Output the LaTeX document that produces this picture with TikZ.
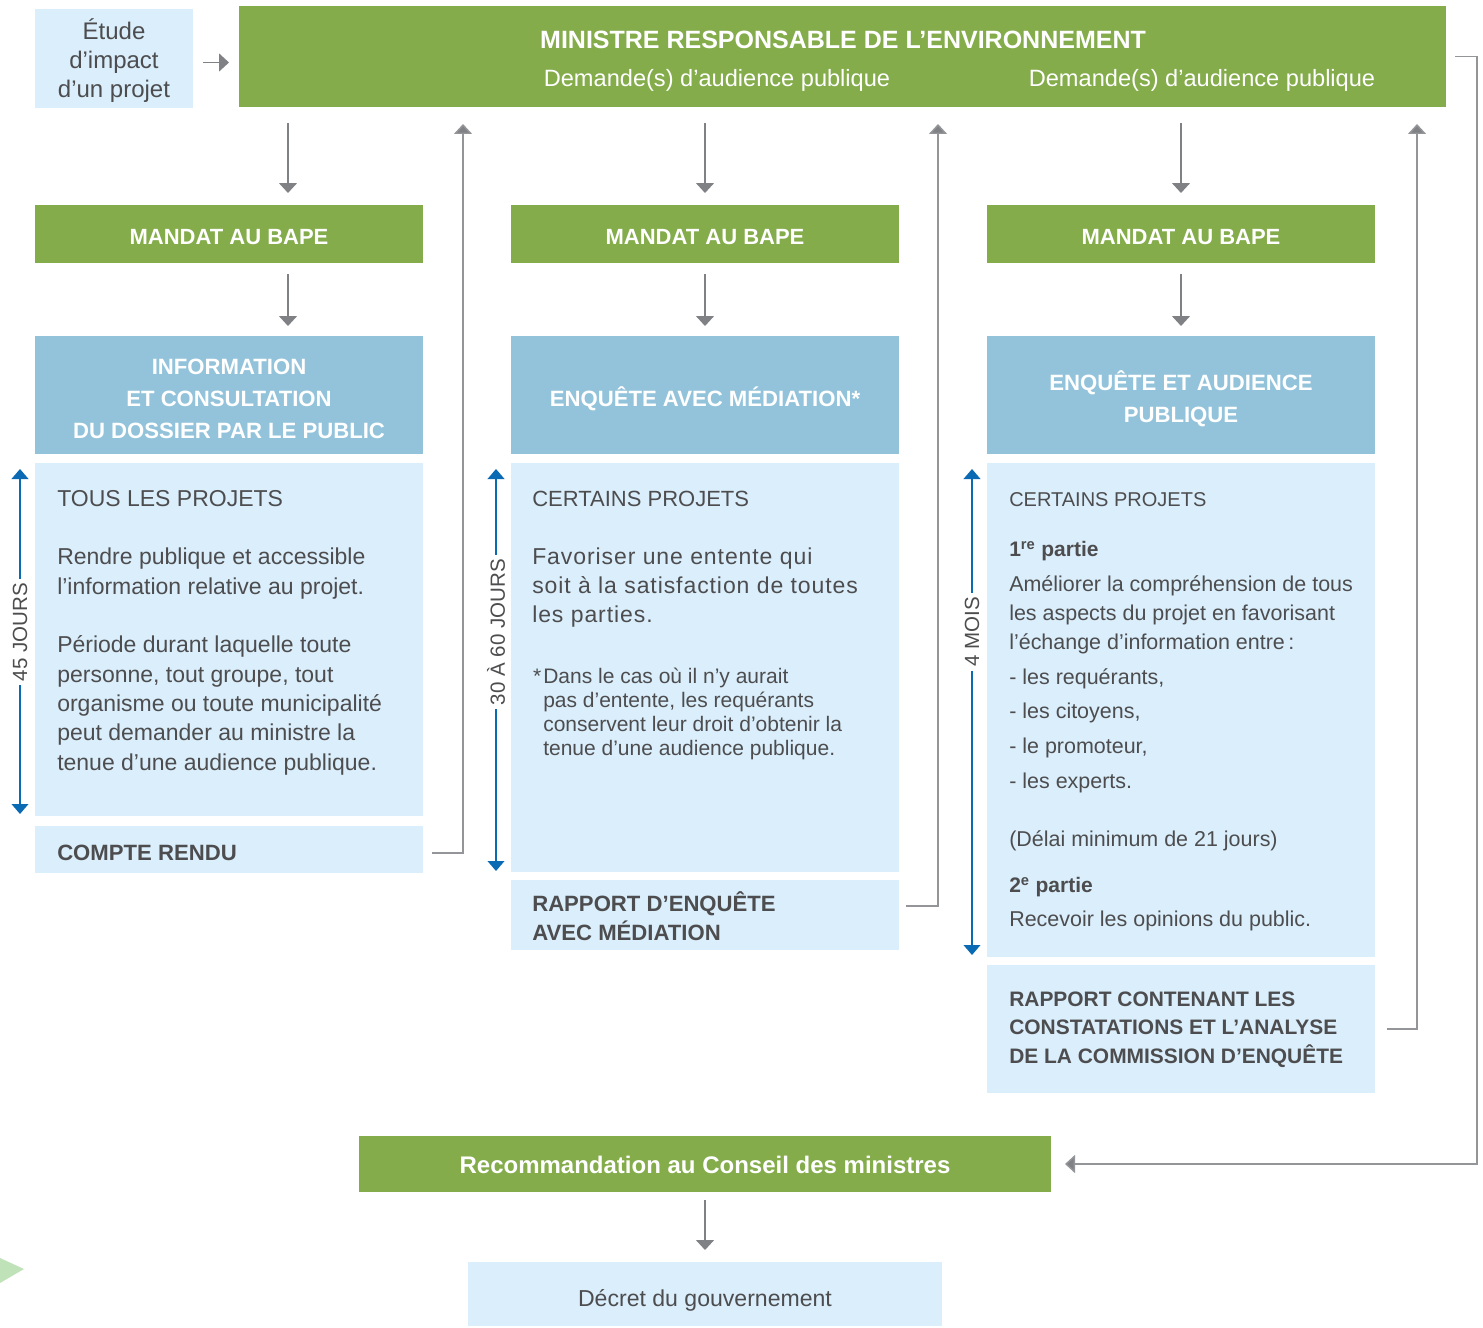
\documentclass[tikz,border=0pt]{standalone}
\usepackage{fontspec}
\setmainfont{Liberation Sans}
\newfontfamily\spaced{Liberation Sans}[LetterSpace=4]
\usetikzlibrary{arrows.meta,fit}
\definecolor{vert}{HTML}{84AC4B}
\definecolor{bleu}{HTML}{93C3DB}
\definecolor{pale}{HTML}{DAEEFB}
\definecolor{txt}{HTML}{4D4D4F}
\definecolor{gris}{HTML}{808184}
\definecolor{grisr}{HTML}{939598}
\definecolor{bleuf}{HTML}{0A6AB3}
\definecolor{tri}{HTML}{BFE2B9}
\newcommand\fs[2]{\fontsize{#1}{#2}\selectfont}
\newcommand\tp{\rule{0pt}{1em}}
\tikzset{
  box/.style={inner sep=0pt, outer sep=0pt, draw=none},
  gbox/.style={box, fill=vert},
  hbox/.style={box, fill=bleu},
  lbox/.style={box, fill=pale},
  wtxt/.style={text=white, inner sep=0pt, font=\bfseries\fs{16.6}{24}},
  ttxt/.style={text=txt, inner sep=0pt},
  btxt/.style={text=txt, inner sep=0pt, font=\bfseries\fs{16.6}{21.75}},
  garrow/.style={draw=gris, line width=1.1pt, -{Triangle[width=13.5pt,length=7.5pt]}},
  rarrow/.style={draw=grisr, line width=1.1pt, -{Triangle[width=13.5pt,length=7.5pt,fill=gris]}},
  barrow/.style={draw=bleuf, line width=1.3pt, {Triangle[width=12.5pt,length=7.5pt]}-{Triangle[width=12.5pt,length=7.5pt]}},
  dlabel/.style={text=txt, fill=white, rotate=90, inner xsep=3pt, inner ysep=1pt, font=\fs{15.4}{18}}
}
\begin{document}
\begin{tikzpicture}[x=0.75pt,y=-0.75pt]
\useasboundingbox (0,0) rectangle (1483,1327);
\fill[white] (0,0) rectangle (1483,1327);
\fill[tri] (0,1258) -- (24,1269) -- (0,1283) -- cycle;

% boxes
\node[lbox, fit={(35,9) (193,108)}] (etude) {};
\node[gbox, fit={(239,6) (1446,107)}] (top) {};
\node[gbox, fit={(35,205) (423,263)}] (m1) {};
\node[gbox, fit={(511,205) (899,263)}] (m2) {};
\node[gbox, fit={(987,205) (1375,263)}] (m3) {};
\node[hbox, fit={(35,336) (423,454)}] (h1) {};
\node[hbox, fit={(511,336) (899,454)}] (h2) {};
\node[hbox, fit={(987,336) (1375,454)}] (h3) {};
\node[lbox, fit={(35,463) (423,816)}] (b1) {};
\node[lbox, fit={(511,463) (899,872)}] (b2) {};
\node[lbox, fit={(987,463) (1375,957)}] (b3) {};
\node[lbox, fit={(35,826) (423,873)}] (r1) {};
\node[lbox, fit={(511,880) (899,950)}] (r2) {};
\node[lbox, fit={(987,965) (1375,1093)}] (r3) {};
\node[gbox, fit={(359,1136) (1051,1192)}] (reco) {};
\node[lbox, fit={(468,1262) (942,1326)}] (dec) {};

% texts
\node[ttxt, anchor=north, align=center, font=\fs{18}{21.75}] (etudet) at (114,15) {\tp Étude\\d’impact\\d’un projet};
\node[wtxt, anchor=base, font=\bfseries\fs{18.75}{22}] (topt) at (843,49) {MINISTRE RESPONSABLE DE L’ENVIRONNEMENT};
\node[text=white, inner sep=0pt, anchor=base, font=\fs{17.7}{22}] (dem1) at (717,87) {Demande(s) d’audience publique};
\node[text=white, inner sep=0pt, anchor=base, font=\fs{17.7}{22}] (dem2) at (1202,87) {Demande(s) d’audience publique};

\node[wtxt, anchor=base, font=\bfseries\fs{16.5}{22}] (m1t) at (229,244) {MANDAT AU BAPE};
\node[wtxt, anchor=base, font=\bfseries\fs{16.5}{22}] (m2t) at (705,244) {MANDAT AU BAPE};
\node[wtxt, anchor=base, font=\bfseries\fs{16.5}{22}] (m3t) at (1181,244) {MANDAT AU BAPE};

\node[wtxt, anchor=north, align=center] (h1t) at (229,351.8) {\tp INFORMATION\\ET CONSULTATION\\DU DOSSIER PAR LE PUBLIC};
\node[wtxt, anchor=base] (h2t) at (705,406) {ENQUÊTE AVEC MÉDIATION*};
\node[wtxt, anchor=north, align=center] (h3t) at (1181,367.8) {\tp ENQUÊTE ET AUDIENCE\\PUBLIQUE};

\node[ttxt, anchor=north west, align=left, font=\fs{17.25}{22}] (b1t) at (57,483) {\tp TOUS LES PROJETS\\[22pt]
Rendre publique et accessible\\l’information relative au projet.\\[22pt]
Période durant laquelle toute\\personne, tout groupe, tout\\organisme ou toute municipalité\\peut demander au ministre la\\tenue d’une audience publique.};
\node[btxt, anchor=base west] (r1t) at (57,860) {COMPTE RENDU};

\node[ttxt, anchor=base west, font=\fs{16.5}{22}] (b2a) at (532,506) {CERTAINS PROJETS};
\node[ttxt, anchor=north west, align=left, font=\spaced\fs{17.25}{21.75}] (b2b) at (532,541) {\tp Favoriser une entente qui\\soit à la satisfaction de toutes\\les parties.};
\node[ttxt, anchor=north west, align=left, font=\fs{15.75}{18}] (b2c) at (543,662) {\tp\llap{*\hspace{1.5pt}}Dans le cas où il n’y aurait\\pas d’entente, les requérants\\conservent leur droit d’obtenir la\\tenue d’une audience publique.};
\node[btxt, anchor=north west, align=left] (r2t) at (532,889) {\tp RAPPORT D’ENQUÊTE\\AVEC MÉDIATION};

\node[ttxt, anchor=base west, font=\fs{15}{20}] (b3a) at (1009,506) {CERTAINS PROJETS};
\node[ttxt, anchor=base west, font=\bfseries\fs{15.75}{20}] (b3b) at (1009,556) {1\textsuperscript{re} partie};
\node[ttxt, anchor=north west, align=left, font=\fs{16.1}{21.75}] (b3c) at (1009,569.5) {\tp Améliorer la compréhension de tous\\les aspects du projet en favorisant\\l’échange d’information entre\,:};
\node[ttxt, anchor=north west, align=left, font=\fs{16.1}{26}] (b3d) at (1009,662.5) {\tp - les requérants,\\- les citoyens,\\- le promoteur,\\- les experts.};
\node[ttxt, anchor=base west, font=\fs{16.1}{20}] (b3e) at (1009,846) {(Délai minimum de 21 jours)};
\node[ttxt, anchor=base west, font=\bfseries\fs{15.75}{20}] (b3f) at (1009,892) {2\textsuperscript{e} partie};
\node[ttxt, anchor=base west, font=\fs{16.1}{20}] (b3g) at (1009,926) {Recevoir les opinions du public.};
\node[btxt, anchor=north west, align=left, font=\bfseries\fs{15.7}{21.4}] (r3t) at (1009,985) {\tp RAPPORT CONTENANT LES\\CONSTATATIONS ET L’ANALYSE\\DE LA COMMISSION D’ENQUÊTE};

\node[text=white, inner sep=0pt, anchor=base, font=\bfseries\fs{18}{22}] (recot) at (705,1173) {Recommandation au Conseil des ministres};
\node[ttxt, anchor=base, font=\fs{17.3}{22}] (dect) at (705,1306) {Décret du gouvernement};

% coordinates
\coordinate (a1) at (288,0);
\coordinate (u1) at (463,0);
\coordinate (u2) at (938,0);
\coordinate (u3) at (1417,0);
\coordinate (cR) at (1477,0);
\coordinate (d1a) at (20,469);  \coordinate (d1b) at (20,814);
\coordinate (d2a) at (496,469); \coordinate (d2b) at (496,871);
\coordinate (d3a) at (972,469); \coordinate (d3b) at (972,955);

% connectors
\draw[garrow, shorten <=7.5pt, shorten >=7.5pt] ([yshift=-3pt]etude.east) -- ([yshift=-3pt]etude.east -| top.west);
\draw[garrow, shorten <=12pt, shorten >=9pt] (top.south -| a1) -- (m1.north -| a1);
\draw[garrow, shorten <=12pt, shorten >=9pt] (top.south -| m2.north) -- (m2.north);
\draw[garrow, shorten <=12pt, shorten >=9pt] (top.south -| m3.north) -- (m3.north);
\draw[garrow, shorten <=8.25pt, shorten >=7.5pt] (m1.south -| a1) -- (h1.north -| a1);
\draw[garrow, shorten <=8.25pt, shorten >=7.5pt] (m2.south) -- (h2.north);
\draw[garrow, shorten <=8.25pt, shorten >=7.5pt] (m3.south) -- (h3.north);

\draw[rarrow, shorten <=6.75pt, shorten >=12.75pt] ([yshift=-2.6pt]r1.east) -| (top.south -| u1);
\draw[rarrow, shorten <=5.25pt, shorten >=12.75pt] ([yshift=6.75pt]r2.east) -| (top.south -| u2);
\draw[rarrow, shorten <=9pt, shorten >=12.75pt] (r3.east) -| (top.south -| u3);
\draw[rarrow, shorten <=6.75pt, shorten >=10.5pt] (top.east) -- (top.east -| cR) -- (cR |- reco.east) -- (reco.east);
\draw[garrow, shorten <=6pt, shorten >=9pt] (reco.south) -- (dec.north);

\draw[barrow] (d1a) -- (d1b);
\draw[barrow] (d2a) -- (d2b);
\draw[barrow] (d3a) -- (d3b);
\node[dlabel] (l1) at (20,632) {45 JOURS};
\node[dlabel] (l2) at (496,632) {30 À 60 JOURS};
\node[dlabel] (l3) at (972,632) {4 MOIS};
\end{tikzpicture}
\end{document}
